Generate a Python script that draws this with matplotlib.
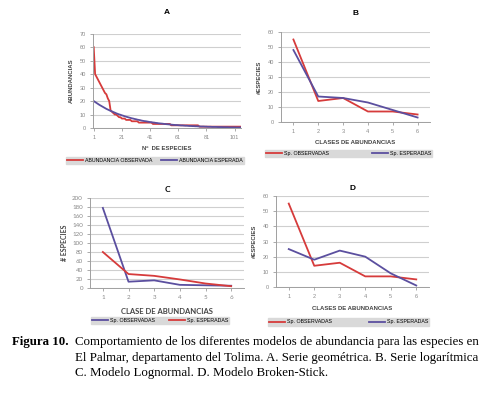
import matplotlib
matplotlib.use("Agg")
import matplotlib.pyplot as plt

W, H = 487, 393

RED = "#d63b3b"
BLUE = "#5b4f9f"
GRID = "#cfcfcf"

# panel A - serie geometrica (105 especies)
obs_a = [60, 40, 38, 36, 34, 32, 30, 28, 26, 25,
         22, 20, 13, 12, 11, 10, 10, 9, 8, 8,
         7, 7, 7, 6, 6, 6, 6, 5, 5, 5,
         5, 5, 4, 4, 4, 4, 4, 4, 4, 4,
         4, 4, 3, 3, 3, 3, 3, 3, 3, 3,
         3, 3, 3, 3, 3, 2, 2, 2, 2, 2,
         2, 2, 2, 2, 2, 2, 2, 2, 2, 2,
         2, 2, 2, 2, 2, 1, 1, 1, 1, 1,
         1, 1, 1, 1, 1, 1, 1, 1, 1, 1,
         1, 1, 1, 1, 1, 1, 1, 1, 1, 1,
         1, 1, 1, 1, 1]
esp_a = [20.0, 19.3, 18.6, 17.9, 17.2, 16.6, 16.0, 15.4, 14.8, 14.2,
         13.7, 13.2, 12.7, 12.3, 11.8, 11.4, 10.9, 10.5, 10.1, 9.8,
         9.4, 9.1, 8.7, 8.4, 8.1, 7.8, 7.5, 7.2, 7.0, 6.7,
         6.5, 6.2, 6.0, 5.8, 5.5, 5.3, 5.1, 5.0, 4.8, 4.6,
         4.4, 4.3, 4.1, 4.0, 3.8, 3.7, 3.5, 3.4, 3.3, 3.2,
         3.0, 2.9, 2.8, 2.7, 2.6, 2.5, 2.4, 2.3, 2.2, 2.2,
         2.1, 2.0, 1.9, 1.9, 1.8, 1.7, 1.7, 1.6, 1.5, 1.5,
         1.4, 1.4, 1.3, 1.3, 1.2, 1.2, 1.1, 1.1, 1.1, 1.0,
         1.0, 0.9, 0.9, 0.9, 0.8, 0.8, 0.8, 0.8, 0.7, 0.7,
         0.7, 0.7, 0.6, 0.6, 0.6, 0.6, 0.5, 0.5, 0.5, 0.5,
         0.5, 0.4, 0.4, 0.4, 0.4]
especies_a = list(range(1, len(obs_a) + 1))

clases = [1, 2, 3, 4, 5, 6]
# panel B - serie logaritmica
obs_b = [55, 14, 16, 7, 7, 5]
esp_b = [48, 17, 16, 13, 8, 3]
# panel C - lognormal
obs_c = [178, 14, 17, 7, 6, 5]
esp_c = [80, 31, 27, 19, 10, 4]
# panel D - broken stick
obs_d = [55, 14, 16, 7, 7, 5]
esp_d = [25, 18, 24, 20, 9, 1]

caption = ["Comportamiento de los diferentes modelos de abundancia para las especies en",
           "El Palmar, departamento del Tolima. A. Serie geométrica. B. Serie logarítmica",
           "C. Modelo Lognormal. D. Modelo Broken-Stick."]

plt.rcParams["font.family"] = "Liberation Sans"

fig = plt.figure(figsize=(W / 100, H / 100), dpi=100)


def rect(l, t, r, b):
    return [l / W, 1 - b / H, (r - l) / W, (b - t) / H]


def style(ax, ymax, ystep, font=None):
    ax.set_ylim(0, ymax)
    ax.set_yticks(range(0, ymax + 1, ystep))
    ax.grid(axis="y", color=GRID, lw=0.8)
    ax.set_axisbelow(True)
    for s in ["top", "right"]:
        ax.spines[s].set_visible(False)
    for s in ["left", "bottom"]:
        ax.spines[s].set_color("#a0a0a0")
        ax.spines[s].set_linewidth(0.7)
    ax.tick_params(labelsize=4, colors="#888888", length=2, width=0.5, pad=3)
    if font:
        for lab in ax.get_xticklabels() + ax.get_yticklabels():
            lab.set_family(font)
            lab.set_fontsize(4.5)


def legend(ax, l, t, r, b, font="Liberation Sans"):
    x0, y0, w, h = rect(l, t, r, b)
    ax.legend(loc="center", bbox_to_anchor=(x0, y0, w, h), bbox_transform=fig.transFigure,
              mode="expand", ncol=2, frameon=True, facecolor="#d9d9d9",
              edgecolor="#d9d9d9", fancybox=False, framealpha=1, handlelength=3,
              borderpad=0.25, handletextpad=0.4, prop={"family": font, "size": 3.8})


# A
ax = fig.add_axes(rect(93, 33.7, 241, 128))
ax.plot(especies_a, obs_a, color=RED, lw=1.3, label="ABUNDANCIA OBSERVADA")
ax.plot(especies_a, esp_a, color=BLUE, lw=1.3, label="ABUNDANCIA ESPERADA")
ax.set_xlim(0.5, len(obs_a) + 0.5)
ax.set_xticks([1, 21, 41, 61, 81, 101])
style(ax, 70, 10)
ax.set_title("A", fontsize=6, fontweight="bold", pad=14)
ax.set_ylabel("ABUNDANCIAS", fontsize=4.3, fontweight="bold", color="#444444", labelpad=4)
ax.set_xlabel("Nº  DE ESPECIES", fontsize=4.3, fontweight="bold", color="#444444", labelpad=4)
legend(ax, 63, 156, 247, 165)

# B
ax = fig.add_axes(rect(281, 32, 430, 122))
ax.plot(clases, obs_b, color=RED, lw=1.3, label="Sp. OBSERVADAS")
ax.plot(clases, esp_b, color=BLUE, lw=1.3, label="Sp. ESPERADAS")
ax.set_xlim(0.5, 6.5)
ax.set_xticks(clases)
style(ax, 60, 10)
ax.set_title("B", fontsize=6, fontweight="bold", pad=12)
ax.set_ylabel("#ESPECIES", fontsize=4.3, fontweight="bold", color="#444444", labelpad=4)
ax.set_xlabel("CLASES DE ABUNDANCIAS", fontsize=4.3, fontweight="bold", color="#444444", labelpad=4)
legend(ax, 262, 150, 435, 157)

# C
ax = fig.add_axes(rect(90, 198, 244, 288))
ax.plot(clases, obs_c, color=BLUE, lw=1.3, label="Sp. OBSERVADAS")
ax.plot(clases, esp_c, color=RED, lw=1.3, label="Sp. ESPERADAS")
ax.set_xlim(0.5, 6.5)
ax.set_xticks(clases)
style(ax, 200, 20, font="Lato")
ax.set_title("C", fontsize=6, fontweight="bold", family="Lato", pad=4)
ax.set_ylabel("# ESPECIES", fontsize=5, fontweight="bold", family="Lato", color="#444444", labelpad=3)
ax.set_xlabel("CLASE DE ABUNDANCIAS", fontsize=5.5, fontweight="bold", family="Lato", color="#444444", labelpad=6)
legend(ax, 88, 316, 232, 325)

# D
ax = fig.add_axes(rect(276, 196, 429, 287))
ax.plot(clases, obs_d, color=RED, lw=1.3, label="Sp. OBSERVADAS")
ax.plot(clases, esp_d, color=BLUE, lw=1.3, label="Sp. ESPERADAS")
ax.set_xlim(0.5, 6.5)
ax.set_xticks(clases)
style(ax, 60, 10)
ax.set_title("D", fontsize=6, fontweight="bold", pad=4)
ax.set_ylabel("#ESPECIES", fontsize=4.3, fontweight="bold", color="#444444", labelpad=4)
ax.set_xlabel("CLASES DE ABUNDANCIAS", fontsize=4.3, fontweight="bold", color="#444444", labelpad=5)
legend(ax, 265, 317, 432, 327)

# caption - size the first line so it spans about 408 px like the original
fs = 9.5
probe = fig.text(0, 0, caption[0], fontsize=fs, family="Liberation Serif")
fig.canvas.draw()
fs = fs * 408 / probe.get_window_extent().width
probe.remove()

fig.text(12 / W, 1 - 345 / H, "Figura 10.", fontsize=fs, fontweight="bold", family="Liberation Serif")
for i, line in enumerate(caption):
    fig.text(75 / W, 1 - (345 + 15.5 * i) / H, line, fontsize=fs, family="Liberation Serif")

fig.savefig("out.png", dpi=100)
